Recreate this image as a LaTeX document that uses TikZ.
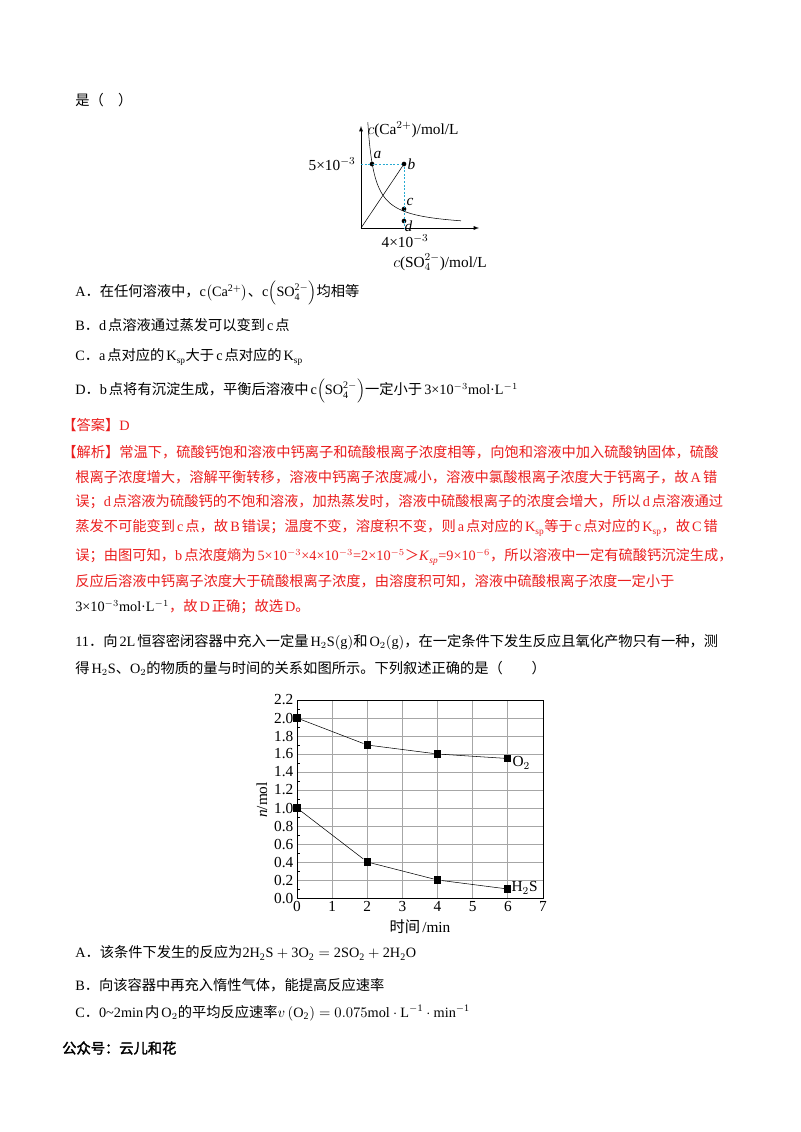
\documentclass[tikz,border=0pt]{standalone}
\usepackage{fontspec}
\setmainfont{Liberation Serif}
\newfontfamily\latin{Liberation Serif}
\newfontfamily\cjk{Noto Sans CJK SC}
\newfontfamily\cjkbold[FakeBold=2]{Noto Sans CJK SC}
\let\curcjk\cjk
\XeTeXinterchartokenstate=1
\newXeTeXintercharclass\CJKcls
\newXeTeXintercharclass\CJKpun
\count255="3000 \loop \XeTeXcharclass\count255=\CJKpun \ifnum\count255<"303F \advance\count255 1 \repeat
\count255="4E00 \loop \XeTeXcharclass\count255=\CJKcls \ifnum\count255<"9FFF \advance\count255 1 \repeat
\count255="FF00 \loop \XeTeXcharclass\count255=\CJKpun \ifnum\count255<"FFEF \advance\count255 1 \repeat
\XeTeXinterchartoks 0 \CJKcls={\kern1.5pt\curcjk}
\XeTeXinterchartoks 4095 \CJKcls={\curcjk}
\XeTeXinterchartoks \CJKcls 0={\latin\kern1.5pt}
\XeTeXinterchartoks \CJKcls 4095={\latin}
\XeTeXinterchartoks 0 \CJKpun={\curcjk}
\XeTeXinterchartoks 4095 \CJKpun={\curcjk}
\XeTeXinterchartoks \CJKpun 0={\latin}
\XeTeXinterchartoks \CJKpun 4095={\latin}
\definecolor{ansred}{RGB}{235,30,30}
\definecolor{dotcyan}{RGB}{40,170,210}
\tikzset{
  txt/.style={anchor=west,inner sep=0pt,font=\fontsize{10.7}{13}\selectfont},
  red/.style={txt,text=ansred},
  ax/.style={font=\fontsize{11.5}{13}\selectfont,inner sep=1pt},
  mk/.style={fill=black,minimum size=5.5pt,inner sep=0pt},
  dt/.style={circle,fill=black,minimum size=3.5pt,inner sep=0pt}
}
\newcommand\ksp{K\textsubscript{\scriptsize sp}}
\begin{document}
\begin{tikzpicture}[x=0.75pt,y=-0.75pt]
\fill[white] (0,0) rectangle (800,1132);
\node[txt] (l0) at (75,100) {是（\quad）};
% plot 1
\coordinate (o1) at (361,228);
\coordinate (yt) at (361,126);
\coordinate (xt) at (479,228);
\draw[-latex] (o1) -- (yt);
\draw[-latex] (o1) -- (xt);
\node[ax,anchor=west] (yl) at (366,130) {$c$(Ca$^{2+}$)/mol/L};
\node[ax,anchor=east] (y5) at (357,164) {5×10$^{-3}$};
\node[dt] (pa) at (372,164) {};
\node[dt] (pb) at (404,164) {};
\node[dt] (pc) at (404,209) {};
\node[dt] (pd) at (404,221) {};
\coordinate (y5p) at (361,164);
\coordinate (x4p) at (404,228);
\draw[dotcyan,dash pattern=on 1.5pt off 1.2pt] (y5p) -- (pb) -- (x4p);
\draw (o1) -- (pb);
\draw plot[domain=6.8:100,samples=80,smooth] ({361+\x},{228-720/\x});
\node[ax,anchor=south west,font=\fontsize{11.5}{13}\itshape] (la) at (372,160) {a};
\node[ax,anchor=west,font=\fontsize{11.5}{13}\itshape] (lb) at (406,164) {b};
\node[ax,anchor=south west,font=\fontsize{11.5}{13}\itshape] (lc) at (405,207) {c};
\node[ax,anchor=west,font=\fontsize{11.5}{13}\itshape] (ld) at (403,226) {d};
\node[ax] (x4) at (405,241) {4×10$^{-3}$};
\node[ax] (xl) at (440,262) {$c$(SO$_4^{2-}$)/mol/L};
% options
\node[txt] (qa) at (75,293) {A．在任何溶液中，c$\left(\mathrm{Ca^{2+}}\right)$、c$\left(\mathrm{SO_4^{2-}}\right)$均相等};
\node[txt] (qb) at (75,325) {B．d点溶液通过蒸发可以变到c点};
\node[txt] (qc) at (75,357) {C．a点对应的\ksp 大于c点对应的\ksp};
\node[txt] (qd) at (75,391) {D．b点将有沉淀生成，平衡后溶液中c$\left(\mathrm{SO_4^{2-}}\right)$一定小于3×10$^{-3}$mol·L$^{-1}$};
% answer
\node[red] (r0) at (62,425) {【答案】D};
\node[red] (r1) at (62,452) {【解析】常温下，硫酸钙饱和溶液中钙离子和硫酸根离子浓度相等，向饱和溶液中加入硫酸钠固体，硫酸};
\node[red] (r2) at (75,477) {根离子浓度增大，溶解平衡转移，溶液中钙离子浓度减小，溶液中氯酸根离子浓度大于钙离子，故A错};
\node[red] (r3) at (75,502) {误；d点溶液为硫酸钙的不饱和溶液，加热蒸发时，溶液中硫酸根离子的浓度会增大，所以d点溶液通过};
\node[red] (r4) at (75,528) {蒸发不可能变到c点，故B错误；温度不变，溶度积不变，则a点对应的\ksp 等于c点对应的\ksp，故C错};
\node[red] (r5) at (75,557) {误；由图可知，b点浓度熵为5×10$^{-3}$×4×10$^{-3}$=2×10$^{-5}$＞\textit{K}\textsubscript{\scriptsize\textit{sp}}=9×10$^{-6}$，所以溶液中一定有硫酸钙沉淀生成，};
\node[red] (r6) at (75,581) {反应后溶液中钙离子浓度大于硫酸根离子浓度，由溶度积可知，溶液中硫酸根离子浓度一定小于};
\node[txt] (r7) at (75,607) {3×10$^{-3}$mol·L$^{-1}$\textcolor{ansred}{，故D正确；故选D。}};
% question 11
\node[txt] (q1) at (75,642) {11．向2L恒容密闭容器中充入一定量H$_2$S$\left(\mathrm{g}\right)$和O$_2$$\left(\mathrm{g}\right)$，在一定条件下发生反应且氧化产物只有一种，测};
\node[txt] (q2) at (75,668) {得H$_2$S、O$_2$的物质的量与时间的关系如图所示。下列叙述正确的是（\qquad）};
% plot 2
\foreach \i in {1,...,6} \draw[gray!70,line width=0.6pt] ({297+35.14*\i},898) -- ({297+35.14*\i},700);
\foreach \j in {1,...,10} \draw[gray!70,line width=0.6pt] (297,{898-18*\j}) -- (543,{898-18*\j});
\draw[line width=0.6pt] (297,700) rectangle (543,898);
\foreach \j in {0,...,10} \draw (297,{889-18*\j}) -- (300,{889-18*\j});
\foreach \j/\l in {0/0.0,1/0.2,2/0.4,3/0.6,4/0.8,5/1.0,6/1.2,7/1.4,8/1.6,9/1.8,10/2.0,11/2.2}
  \node[ax,anchor=east] (yt\j) at (295,{898-18*\j}) {\l};
\foreach \i in {0,...,7} \node[ax,anchor=north] (xt\i) at ({297+35.14*\i},900) {\i};
\node[ax,rotate=90] (nl) at (262,800) {\textit{n}/mol};
\node[ax] (tl) at (420,927) {时间/min};
\node[mk] (o0) at (297,718) {};
\node[mk] (o2) at (367.3,745) {};
\node[mk] (o4) at (437.6,754) {};
\node[mk] (o6) at (507.8,758.5) {};
\draw (o0) -- (o2) -- (o4) -- (o6);
\node[mk] (h0) at (297,808) {};
\node[mk] (h2) at (367.3,862) {};
\node[mk] (h4) at (437.6,880) {};
\node[mk] (h6) at (507.8,889) {};
\draw (h0) -- (h2) -- (h4) -- (h6);
\node[ax,anchor=west] (lo) at (511,763) {O$_2$};
\node[ax,anchor=west] (lh) at (510,888) {H$_2$S};
% bottom
\node[txt] (ba) at (75,953) {A．该条件下发生的反应为$\mathrm{2H_2S+3O_2=2SO_2+2H_2O}$};
\node[txt] (bb) at (75,985) {B．向该容器中再充入惰性气体，能提高反应速率};
\node[txt] (bc) at (75,1013) {C．0\textasciitilde2min内O$_2$的平均反应速率$v\left(\mathrm{O_2}\right)=0.075\mathrm{mol\cdot L^{-1}\cdot min^{-1}}$};
\node[txt] (bd) at (62,1048) {\let\curcjk\cjkbold 公众号：云儿和花};
\end{tikzpicture}
\end{document}
